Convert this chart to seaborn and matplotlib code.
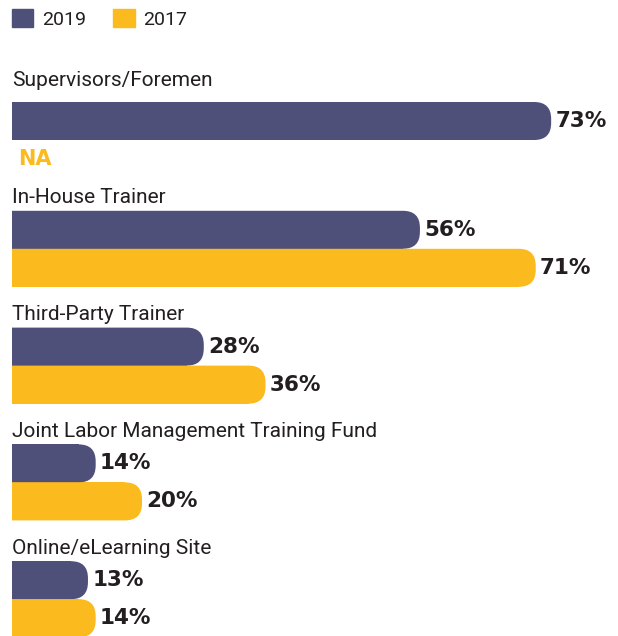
import pandas as pd
import matplotlib.pyplot as plt
import seaborn as sns
from matplotlib.patches import FancyBboxPatch, Patch
from matplotlib.transforms import blended_transform_factory

# Chart values
categories = ["Supervisors/Foremen", "In-House Trainer", "Third-Party Trainer",
              "Joint Labor Management Training Fund", "Online/eLearning Site"]
vals_2019 = [73, 56, 28, 14, 13]
vals_2017 = [None, 71, 36, 20, 14]
years = ["2019", "2017"]

c19 = "#4e5079"
c17 = "#fbba1d"
txt = "#231f20"

# layout (pixel units on y)
W, H = 618, 636
bar_h = 38
px_per_pct = 7.72
x_lo = 3.16

label_y = [81 + 116.8 * i for i in range(len(categories))]
bar_top = [y + (21 if i == 0 else 13) for i, y in enumerate(label_y)]

rows = []
for i, cat in enumerate(categories):
    for j, (yr, vals) in enumerate(zip(years, [vals_2019, vals_2017])):
        rows.append({"category": cat, "year": yr, "value": vals[i],
                     "pos": bar_top[i] + bar_h * j + bar_h / 2})
df = pd.DataFrame(rows)
df_bars = df.dropna(subset=["value"])

sns.set_theme(style="white")
label_font = ["Roboto", "DejaVu Sans"]

fig = plt.figure(figsize=(W / 100, H / 100), dpi=100)
ax = fig.add_axes([12 / W, 0, (W - 12) / W, 1])

sns.barplot(data=df_bars, x="value", y="pos", hue="year", orient="y",
            native_scale=True, dodge=False, width=1.0,
            palette={"2019": c19, "2017": c17}, legend=False, ax=ax,
            saturation=1, linewidth=0, errorbar=None)

ax.set_xlim(x_lo, x_lo + (W - 12) / px_per_pct)
ax.set_ylim(H, 0)
ax.axis("off")

# rounded right ends
r_px = 17
r_x = r_px / px_per_pct
for p in list(ax.patches):
    x0, y0, w, h = p.get_x(), p.get_y(), p.get_width(), p.get_height()
    if w <= 0:
        continue
    col = p.get_facecolor()
    p.set_width(w - r_x)
    fb = FancyBboxPatch((x0, y0), w, h,
                        boxstyle=f"round,pad=0,rounding_size={r_x}",
                        mutation_aspect=px_per_pct, facecolor=col,
                        edgecolor="none", linewidth=0)
    ax.add_patch(fb)

# value labels
for _, r in df.iterrows():
    if pd.isna(r["value"]):
        continue
    ax.annotate(f"{int(r['value'])}%", (r["value"], r["pos"]),
                xytext=(3, 0), textcoords="offset points",
                ha="left", va="center", fontsize=15.5, fontweight="bold",
                family="DejaVu Sans", color=txt)

# category labels and NA
tr = blended_transform_factory(ax.transAxes, ax.transData)
for i, cat in enumerate(categories):
    ax.text(0, label_y[i], cat, transform=tr, ha="left", va="center",
            fontsize=15, family=label_font, color=txt)
na = df[df["value"].isna()]
for _, r in na.iterrows():
    ax.text(6 / (W - 12), r["pos"], "NA", transform=tr, ha="left", va="center",
            fontsize=15, fontweight="bold", family="DejaVu Sans", color=c17)

handles = [Patch(color=c19, label="2019"), Patch(color=c17, label="2017")]
ax.legend(handles=handles, loc="upper left", bbox_to_anchor=(0, 1 - 9 / H),
          frameon=False, ncol=2, borderaxespad=0, borderpad=0,
          handlelength=1.1, handleheight=1.05, handletextpad=0.45,
          columnspacing=1.4,
          prop={"family": label_font, "size": 14})
for t in ax.get_legend().get_texts():
    t.set_color(txt)

fig.savefig("out.png", dpi=100)
